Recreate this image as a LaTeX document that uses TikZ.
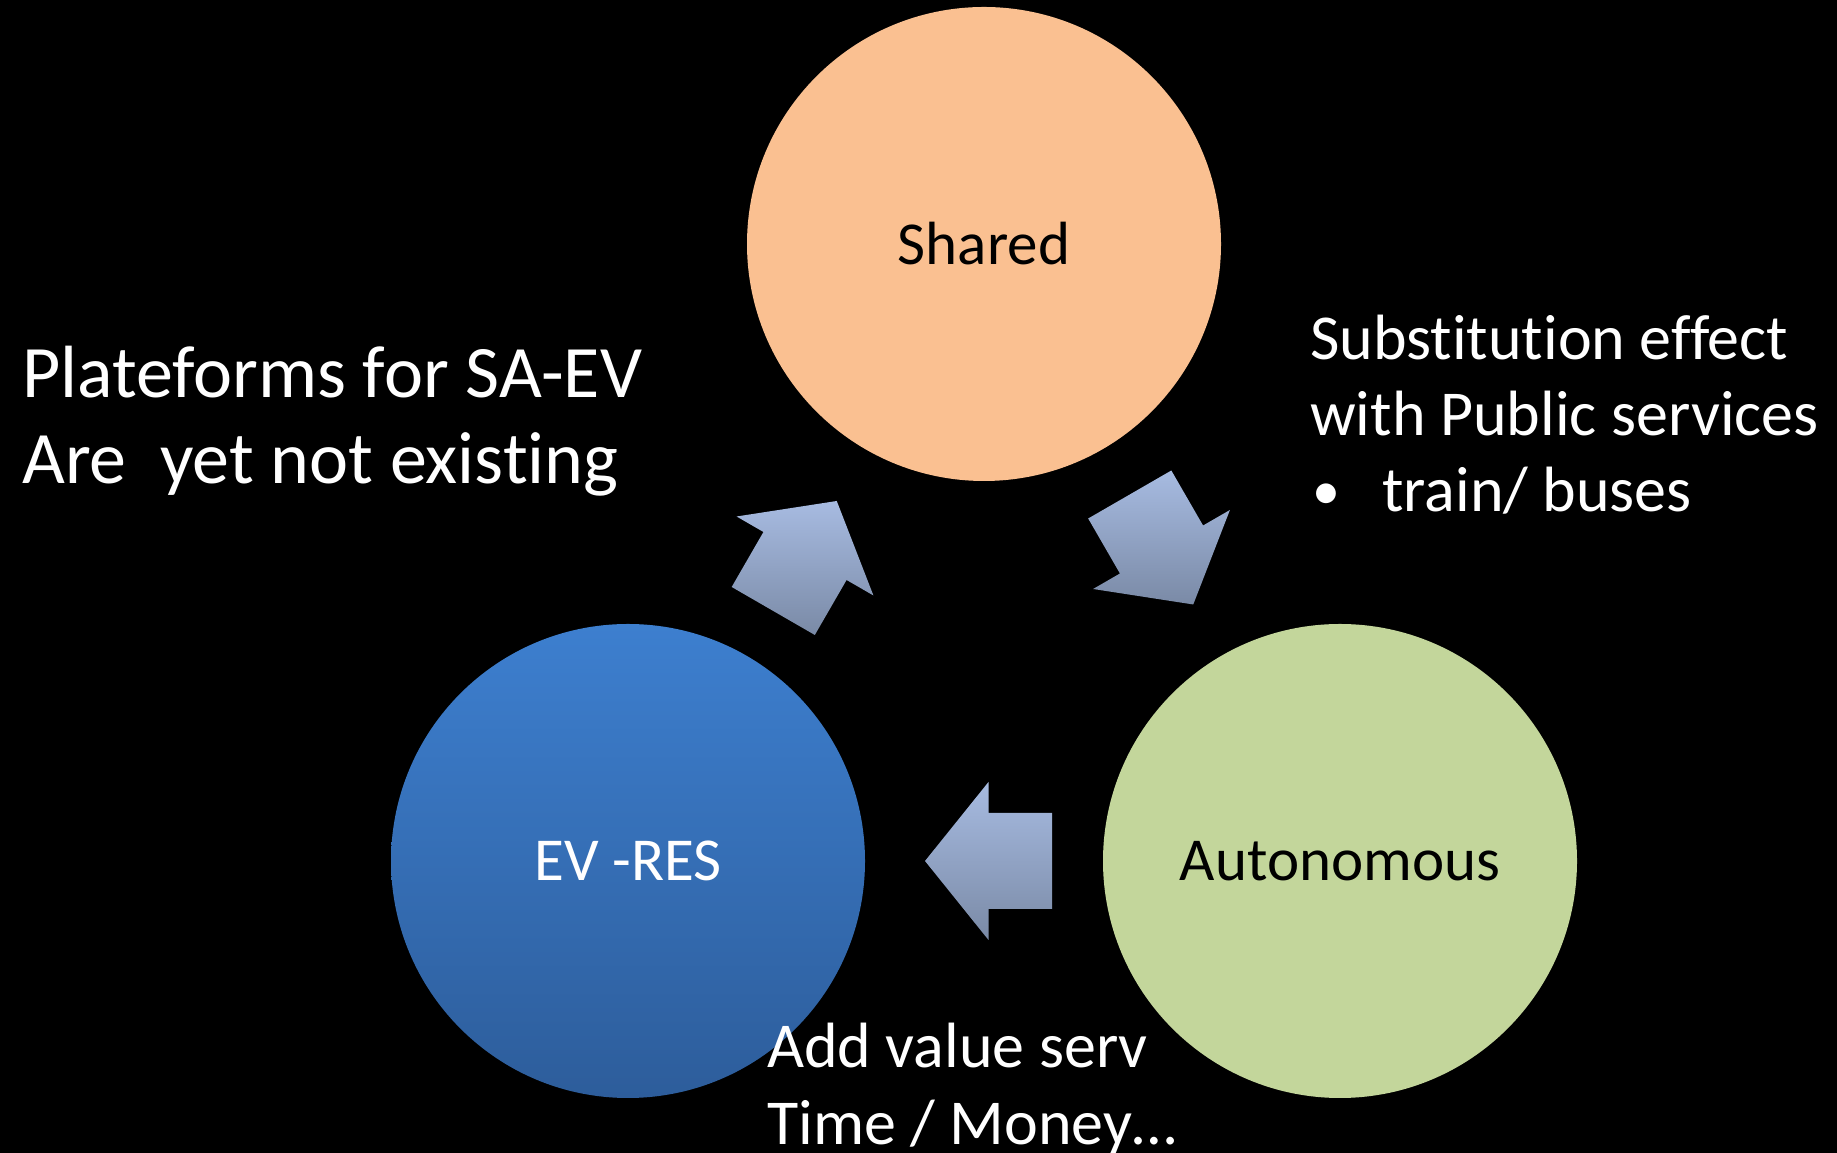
\documentclass[tikz,border=0pt]{standalone}
\usepackage{fontspec}
\setmainfont[Ligatures={NoCommon}]{Carlito}
\definecolor{sharedc}{RGB}{250,192,145}
\definecolor{autoc}{RGB}{195,214,155}
\definecolor{evtop}{RGB}{61,127,207}
\definecolor{evbot}{RGB}{45,93,155}
\definecolor{arrtop}{RGB}{167,187,225}
\definecolor{arrbot}{RGB}{122,138,166}
\begin{document}
\begin{tikzpicture}[x=1pt,y=1pt,
  circ/.style={circle,minimum size=474pt,inner sep=0pt,font=\fontsize{61}{72}\selectfont},
  sidetext/.style={anchor=base west,inner sep=0pt,text=white,font=\fontsize{64}{76}\selectfont},
  bigtext/.style={anchor=base west,inner sep=0pt,text=white,font=\fontsize{74}{88}\selectfont},
  arrowshade/.style={top color=arrtop,bottom color=arrbot,draw=none}]
\fill[black] (0,0) rectangle (1837,1153);
\useasboundingbox (0,0) rectangle (1837,1153);
% circles
\node[circ,fill=sharedc,text=black] (shared) at (984,909) {Shared};
\node[circ,fill=autoc,text=black] (auto) at (1340,292) {Autonomous};
\shade[top color=evtop,bottom color=evbot] (628,292) circle (237);
\node[circ,text=white] (ev) at (628,292) {EV -RES};
% block arrows
\foreach \nm/\cx/\cy/\ang in {a/805/597/60, b/1161.5/603.5/-60, c/988.5/292/180}{
  \begin{scope}[shift={(\cx,\cy)},rotate=\ang]
    \coordinate (\nm1) at (-63.5,-48);
    \coordinate (\nm2) at (0,-48);
    \coordinate (\nm3) at (0,-79);
    \coordinate (\nm4) at (63.5,0);
    \coordinate (\nm5) at (0,79);
    \coordinate (\nm6) at (0,48);
    \coordinate (\nm7) at (-63.5,48);
  \end{scope}
  \shade[arrowshade] (\nm1) -- (\nm2) -- (\nm3) -- (\nm4) -- (\nm5) -- (\nm6) -- (\nm7) -- cycle;
}
% texts
\node[bigtext] (l1) at (22,755) {Plateforms for SA-EV};
\node[bigtext] (l2) at (22,669) {Are\ \ yet not existing};
\node[sidetext] (r1) at (1310,793) {Substitution effect};
\node[sidetext] (r2) at (1310,717) {with Public services};
\node[sidetext,font=\fontsize{56}{66}\selectfont] (r3b) at (1312,643) {•};
\node[sidetext] (r3) at (1382,641) {train/ buses};
\node[sidetext] (b1) at (767,85) {Add value serv};
\node[sidetext] (b2) at (767,8) {Time / Money…};
\end{tikzpicture}
\end{document}
